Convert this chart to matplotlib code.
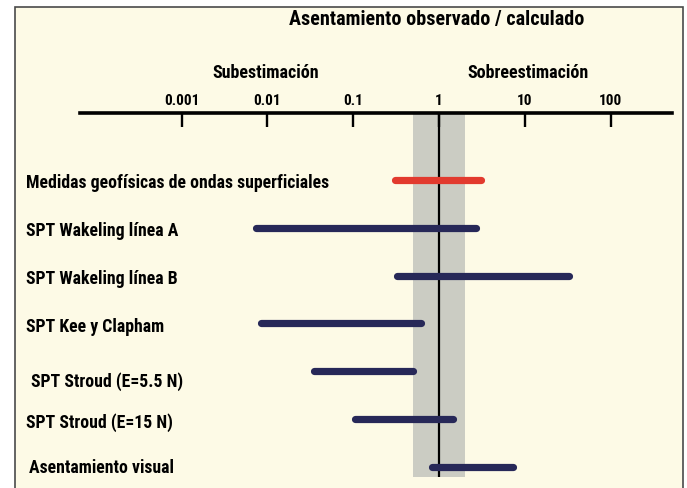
import matplotlib
matplotlib.use("Agg")
import matplotlib.pyplot as plt
import matplotlib.transforms as mtransforms
from matplotlib import font_manager
from matplotlib.patches import Rectangle

# ratio observado / calculado, rango por metodo
metodos = ["Medidas geofísicas de ondas superficiales",
           "SPT Wakeling línea A",
           "SPT Wakeling línea B",
           "SPT Kee y Clapham",
           "SPT Stroud (E=5.5 N)",
           "SPT Stroud (E=15 N)",
           "Asentamiento visual"]
minimo = [0.31, 0.0074, 0.32, 0.0085, 0.035, 0.105, 0.84]
maximo = [3.1, 2.7, 33, 0.61, 0.50, 1.45, 7.2]
ticks = [0.001, 0.01, 0.1, 1, 10, 100]
tick_labels = ["0.001", "0.01", "0.1", "1", "10", "100"]
banda = (0.5, 2.0)

colores = ["#e23a2e"] + ["#272858"] * 6
crema = "#fdfae6"

# fuente estrecha en negrita, la primera que haya
nombres = {f.name for f in font_manager.fontManager.ttflist}
fuente = "Liberation Sans"
for n in ["Arial Narrow", "Liberation Sans Narrow", "Roboto Condensed",
          "PT Sans Narrow", "Archivo Narrow", "Fira Sans Condensed"]:
    if n in nombres:
        fuente = n
        break
plt.rcParams["font.family"] = [fuente, "DejaVu Sans"]
plt.rcParams["font.weight"] = "bold"

W, H = 687, 489
fig = plt.figure(figsize=(W / 100, H / 100), dpi=100)
fig.patch.set_facecolor("white")
fig.patches.append(Rectangle((15 / W, -0.02), 668 / W, 1.02 - 8 / H,
                             transform=fig.transFigure, facecolor=crema,
                             edgecolor="#4a4a4a", linewidth=1.2, zorder=-5))

# eje: de x=80 a x=672 px, de y=114 a y=478 px
ax = fig.add_axes([80 / W, 1 - 478 / H, 592 / W, 364 / H])
ax.set_facecolor("none")
ax.set_xscale("log")
ax.set_xlim(10 ** -4.184, 10 ** 2.716)
ax.set_ylim(6.213, -1.402)

ax.axvspan(banda[0], banda[1], color="#cbccc3", zorder=1, lw=0)
ax.axvline(1, color="black", lw=1.6, zorder=2)

for i in range(len(metodos)):
    ax.plot([minimo[i], maximo[i]], [i, i], color=colores[i], lw=5.2,
            solid_capstyle="round", zorder=3)

for s in ["left", "right", "bottom"]:
    ax.spines[s].set_visible(False)
ax.spines["top"].set_linewidth(2.6)
ax.xaxis.set_ticks_position("top")
ax.set_xticks(ticks)
ax.set_xticklabels(tick_labels)
ax.xaxis.set_minor_locator(matplotlib.ticker.NullLocator())
ax.tick_params(axis="x", direction="in", length=10, width=1.7, pad=4,
               labelsize=11)
ax.set_yticks([])

# etiquetas de los metodos
trans = mtransforms.blended_transform_factory(fig.transFigure, ax.transData)
x_etiqueta = [26, 26, 26, 26, 31, 26, 29]
dy_etiqueta = [0.05, 0.05, 0.05, 0.05, 0.19, 0.06, 0.0]
for i, m in enumerate(metodos):
    ax.text(x_etiqueta[i] / W, i + dy_etiqueta[i], m, transform=trans,
            ha="left", va="center", fontsize=12.8, color="black")

fig.text(437 / W, 1 - 19 / H, "Asentamiento observado / calculado",
         ha="center", va="center", fontsize=14.5)
fig.text(266 / W, 1 - 73 / H, "Subestimación", ha="center", va="center",
         fontsize=13)
fig.text(528 / W, 1 - 73 / H, "Sobreestimación", ha="center", va="center",
         fontsize=13)

fig.savefig("out.png", dpi=100, facecolor=fig.get_facecolor())
